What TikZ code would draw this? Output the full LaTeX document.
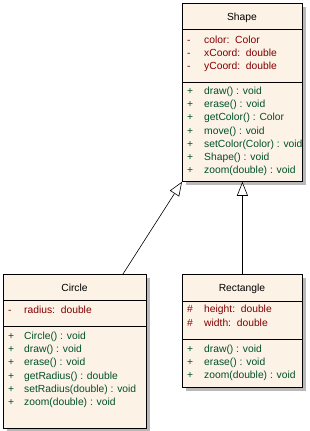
\documentclass[tikz,border=0pt]{standalone}
\usepackage{fontspec}
\setmainfont{Liberation Sans}
\usetikzlibrary{arrows.meta}
\definecolor{boxfill}{RGB}{253,242,230}
\definecolor{attrc}{RGB}{128,0,0}
\definecolor{methc}{RGB}{0,80,40}
\definecolor{shadowc}{RGB}{185,185,185}
\begin{document}
\begin{tikzpicture}[x=1pt,y=-1pt,
  font=\fontsize{10.3}{12}\selectfont,
  classbox/.style={draw=black, fill=boxfill, line width=0.8pt, inner sep=0, anchor=north west},
  sep/.style={line width=0.8pt},
  title/.style={inner sep=0, anchor=mid, text=black},
  attr/.style={inner sep=0, anchor=mid west, text=attrc},
  meth/.style={inner sep=0, anchor=mid west, text=methc},
  inherit/.style={-{Triangle[length=14pt,width=11pt,fill=white]}, line width=0.6pt}]
\useasboundingbox (0,0) rectangle (309,431);
% shadows
\fill[shadowc] (186,7) rectangle (306,185);
\fill[shadowc] (7,278) rectangle (150,432);
\fill[shadowc] (186,278) rectangle (306,391);
% boxes
\node[classbox, minimum width=120pt, minimum height=178pt] (shape) at (182,3) {};
\node[classbox, minimum width=143pt, minimum height=154pt] (circ) at (3,274) {};
\node[classbox, minimum width=120pt, minimum height=113pt] (rect) at (182,274) {};
% separators
\draw[sep] (182,29) -- (302,29);
\draw[sep] (182,82) -- (302,82);
\draw[sep] (3,300) -- (146,300);
\draw[sep] (3,326) -- (146,326);
\draw[sep] (182,301) -- (302,301);
\draw[sep] (182,339) -- (302,339);
% Shape
\node[title] (shapet) at (242,18) {Shape};
\foreach \t [count=\i] in {color:\ \ Color, xCoord:\ \ double, yCoord:\ \ double} {
  \node[attr] (sas\i) at (187,{28+13*\i}) {-};
  \node[attr] (sa\i) at (204,{28+13*\i}) {\t};
}
\foreach \t [count=\i] in {draw() : void, erase() : void, getColor() : Color, move() : void, setColor(Color) : void, Shape() : void, zoom(double) : void} {
  \node[meth] (sms\i) at (187,{78.9+13.15*\i}) {+};
  \node[meth] (sm\i) at (204,{78.9+13.15*\i}) {\t};
}
% Circle
\node[title] (circt) at (74.5,288.5) {Circle};
\node[attr] (cas1) at (8,310.5) {-};
\node[attr] (ca1) at (24,310.5) {radius:\ \ double};
\foreach \t [count=\i] in {Circle() : void, draw() : void, erase() : void, getRadius() : double, setRadius(double) : void, zoom(double) : void} {
  \node[meth] (cms\i) at (8,{324+13.1*\i}) {+};
  \node[meth] (cm\i) at (24,{324+13.1*\i}) {\t};
}
% Rectangle
\node[title] (rectt) at (242,288.5) {Rectangle};
\node[attr] (ras1) at (187,310) {\#};
\node[attr] (ra1) at (204,310) {height:\ \ double};
\node[attr] (ras2) at (187,324) {\#};
\node[attr] (ra2) at (204,324) {width:\ \ double};
\foreach \t [count=\i] in {draw() : void, erase() : void, zoom(double) : void} {
  \node[meth] (rms\i) at (187,{336.2+13.3*\i}) {+};
  \node[meth] (rm\i) at (204,{336.2+13.3*\i}) {\t};
}
% inheritance
\coordinate (c1) at (123,274);
\draw[inherit] (c1) -- (shape.south west);
\draw[inherit] (rect.north) -- (shape.south);
\end{tikzpicture}
\end{document}
